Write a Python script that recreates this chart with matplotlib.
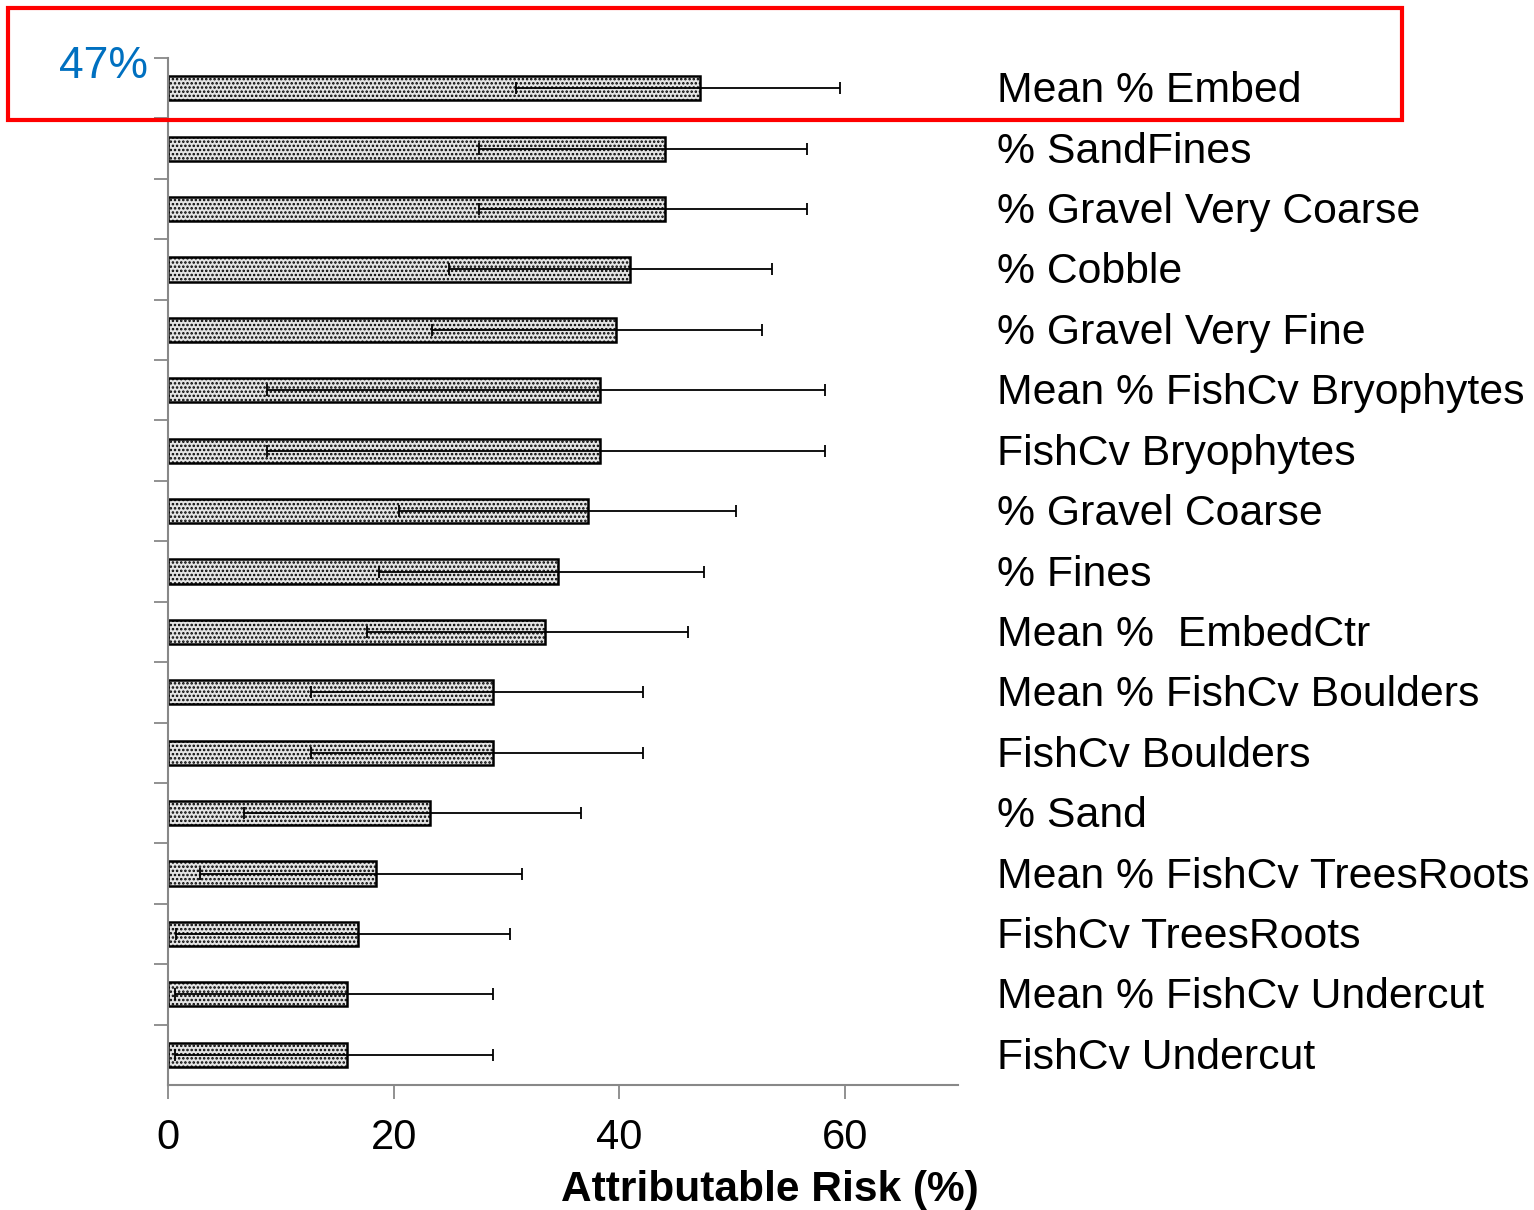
import numpy as np
import matplotlib
matplotlib.use("Agg")
import matplotlib.pyplot as plt
from matplotlib.patches import Rectangle

plt.rcParams['font.family'] = ['Liberation Sans', 'DejaVu Sans']
plt.rcParams['hatch.color'] = '#444444'
plt.rcParams['hatch.linewidth'] = 1.2

# values top to bottom
labels = ["Mean % Embed", "% SandFines", "% Gravel Very Coarse", "% Cobble",
          "% Gravel Very Fine", "Mean % FishCv Bryophytes", "FishCv Bryophytes",
          "% Gravel Coarse", "% Fines", "Mean %  EmbedCtr", "Mean % FishCv Boulders",
          "FishCv Boulders", "% Sand", "Mean % FishCv TreesRoots", "FishCv TreesRoots",
          "Mean % FishCv Undercut", "FishCv Undercut"]
risk = [47.1, 44.0, 44.0, 40.9, 39.7, 38.3, 38.3, 37.2, 34.6, 33.4, 28.8, 28.8,
        23.2, 18.4, 16.8, 15.9, 15.9]
ci_low = [30.8, 27.6, 27.6, 24.9, 23.4, 8.8, 8.8, 20.5, 18.7, 17.6, 12.7, 12.7,
          6.7, 2.8, 0.7, 0.6, 0.6]
ci_high = [59.5, 56.6, 56.6, 53.5, 52.6, 58.2, 58.2, 50.3, 47.5, 46.1, 42.1, 42.1,
           36.6, 31.4, 30.3, 28.8, 28.8]
xticks = [0, 20, 40, 60]

risk = np.array(risk)
err = [risk - np.array(ci_low), np.array(ci_high) - risk]
y = np.arange(len(labels))

fig = plt.figure(figsize=(15.34, 12.1), dpi=100)
ax = fig.add_axes([168 / 1534, 1 - 1085 / 1210, (958 - 168) / 1534, (1085 - 58) / 1210])

ax.barh(y, risk, height=0.4, color='#e4e4e4', edgecolor='black', linewidth=1.8,
        hatch='....', zorder=2)
ax.errorbar(risk, y, xerr=err, fmt='none', ecolor='black', elinewidth=1.3,
            capsize=4.5, capthick=1.3, zorder=3)

ax.set_xlim(0, 70)
ax.set_ylim(len(labels) - 0.5, -0.5)
ax.set_xticks(xticks)
ax.set_xticklabels([str(t) for t in xticks], fontsize=30)
ax.set_yticks([])
ax.set_yticks(np.arange(len(labels)) - 0.5, minor=True)
ax.tick_params(axis='y', which='minor', length=10, width=1.3, color='#888888', direction='out')
ax.tick_params(axis='x', length=10, width=1.3, color='#888888', pad=14)

for side in ['top', 'right']:
    ax.spines[side].set_visible(False)
for side in ['left', 'bottom']:
    ax.spines[side].set_color('#888888')
    ax.spines[side].set_linewidth(1.5)

for i, lab in enumerate(labels):
    ax.text(73.45, i + 0.05, lab, fontsize=30.8, va='center', ha='left', clip_on=False)

ax.set_xlabel("Attributable Risk (%)", fontsize=30.5, fontweight='bold')
ax.xaxis.set_label_coords((770 - 168) / (958 - 168), -(1190 - 1085) / (1085 - 58))
ax.xaxis.label.set_va('center')

fig.text(148 / 1534, 1 - 66 / 1210, "47%", fontsize=32, color='#0070C0',
         ha='right', va='center')
fig.patches.append(Rectangle((8 / 1534, 1 - 120 / 1210), (1402 - 8) / 1534, 112 / 1210,
                             transform=fig.transFigure, fill=False, edgecolor='#ff0000',
                             linewidth=3))

fig.savefig("out.png", dpi=100)
